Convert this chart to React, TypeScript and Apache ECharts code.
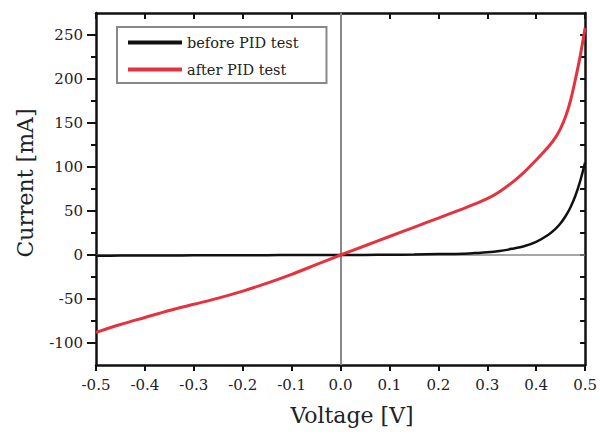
import React, { useEffect, useRef } from "react";
import * as echarts from "echarts";

const voltage = [-0.5, -0.45, -0.4, -0.35, -0.3, -0.25, -0.2, -0.15, -0.1, -0.05, 0, 0.05, 0.1, 0.15, 0.2, 0.25, 0.275, 0.3, 0.325, 0.35, 0.375, 0.4, 0.425, 0.44, 0.45, 0.46, 0.47, 0.48, 0.49, 0.5];
const beforePID = [-0.8, -0.7, -0.6, -0.5, -0.4, -0.3, -0.2, -0.15, -0.1, -0.05, 0, 0.1, 0.3, 0.5, 1, 1.5, 2.2, 3, 4.5, 7, 10, 15, 23, 30, 36, 44, 54, 67, 84, 105];
const afterPID = [-88, -79, -71, -63, -56, -49, -41, -32, -22, -11, 0, 10.5, 21, 31.5, 42, 52.5, 58, 64, 72, 82, 94, 108, 123, 134, 144, 157, 175, 199, 226, 258];

const seriesNames = ["before PID test", "after PID test"];
const yMajorTicks = [-100, -50, 0, 50, 100, 150, 200, 250];
const yMinorTicks = [-75, -25, 25, 75, 125, 175, 225];
const yAllTicks = [-100, -75, -50, -25, 0, 25, 50, 75, 100, 125, 150, 175, 200, 225, 250];

const FONT = "DejaVu Serif";

export default function App() {
  const ref = useRef<HTMLDivElement>(null);
  useEffect(() => {
    if (!ref.current) return;
    const chart = echarts.init(ref.current, undefined, { renderer: "svg" });
    const axisLine = { show: true, onZero: false, lineStyle: { color: "#111", width: 2.5 } };
    const xBase = { type: "value", min: -0.5, max: 0.5, interval: 0.1, splitLine: { show: false } };
    const yBase = { type: "value", min: -125, max: 275, interval: 25, splitLine: { show: false } };
    chart.setOption({
      animation: false,
      backgroundColor: "#fff",
      grid: { left: 96, right: 13, top: 13, bottom: 70, show: false },
      legend: {
        data: seriesNames.map((n) => ({ name: n, icon: "rect" })),
        orient: "vertical",
        left: 117,
        top: 27,
        itemWidth: 54,
        itemHeight: 4,
        itemGap: 12,
        padding: [8, 28, 6, 11],
        borderColor: "#888",
        borderWidth: 2,
        textStyle: { fontFamily: FONT, fontSize: 14.5, color: "#222" },
      },
      xAxis: [
        {
          ...xBase,
          position: "bottom",
          axisLine,
          axisTick: { show: true, inside: false, length: 6, lineStyle: { color: "#111", width: 2 } },
          axisLabel: {
            margin: 12,
            fontFamily: FONT,
            fontSize: 15,
            color: "#222",
            formatter: (v: number) => v.toFixed(1),
          },
        },
        {
          ...xBase,
          position: "top",
          axisLine,
          axisTick: { show: true, inside: true, length: 6, lineStyle: { color: "#111", width: 2 } },
          axisLabel: { show: false },
        },
      ],
      yAxis: [
        {
          ...yBase,
          position: "left",
          axisLine,
          axisTick: { show: true, inside: false, length: 9, customValues: yMajorTicks, lineStyle: { color: "#111", width: 2 } },
          axisLabel: {
            customValues: yMajorTicks,
            margin: 13,
            fontFamily: FONT,
            fontSize: 15,
            color: "#222",
            formatter: (v: number) => (v % 50 === 0 ? String(v) : ""),
          },
        },
        {
          ...yBase,
          position: "left",
          axisLine: { show: false, onZero: false },
          axisTick: { show: true, inside: false, length: 5, customValues: yMinorTicks, lineStyle: { color: "#111", width: 2 } },
          axisLabel: { show: false },
        },
        {
          ...yBase,
          position: "right",
          axisLine,
          axisTick: { show: true, inside: true, length: 5, customValues: yAllTicks, lineStyle: { color: "#111", width: 2 } },
          axisLabel: { show: false },
        },
      ],
      series: [
        {
          name: seriesNames[0],
          type: "line",
          xAxisIndex: 0,
          yAxisIndex: 0,
          data: voltage.map((v, i) => [v, beforePID[i]]),
          showSymbol: false,
          symbol: "none",
          smooth: 0.3,
          z: 3,
          lineStyle: { color: "#111", width: 2.5 },
          itemStyle: { color: "#111" },
          markLine: {
            silent: true,
            symbol: ["none", "none"],
            z: 1,
            label: { show: false },
            data: [
              { xAxis: 0, lineStyle: { color: "#888", width: 2, type: "solid" } },
              { yAxis: 0, lineStyle: { color: "#888", width: 1.5, type: "solid" } },
            ],
          },
        },
        {
          name: seriesNames[1],
          type: "line",
          xAxisIndex: 0,
          yAxisIndex: 0,
          data: voltage.map((v, i) => [v, afterPID[i]]),
          showSymbol: false,
          symbol: "none",
          smooth: 0.3,
          z: 4,
          lineStyle: { color: "#e5323f", width: 3 },
          itemStyle: { color: "#e5323f" },
        },
      ],
      graphic: [
        {
          type: "text",
          x: 352,
          y: 415,
          style: {
            text: "Voltage [V]",
            fontFamily: FONT,
            fontSize: 22,
            fill: "#222",
            textAlign: "center",
            textVerticalAlign: "middle",
          },
        },
        {
          type: "text",
          x: 25,
          y: 183,
          rotation: Math.PI / 2,
          style: {
            text: "Current [mA]",
            fontFamily: FONT,
            fontSize: 22,
            fill: "#222",
            textAlign: "center",
            textVerticalAlign: "middle",
          },
        },
      ],
    });
    return () => chart.dispose();
  }, []);
  return (
    <div
      ref={ref}
      style={{ position: "fixed", left: 0, top: 0, width: 600, height: 435, background: "#fff" }}
    />
  );
}
